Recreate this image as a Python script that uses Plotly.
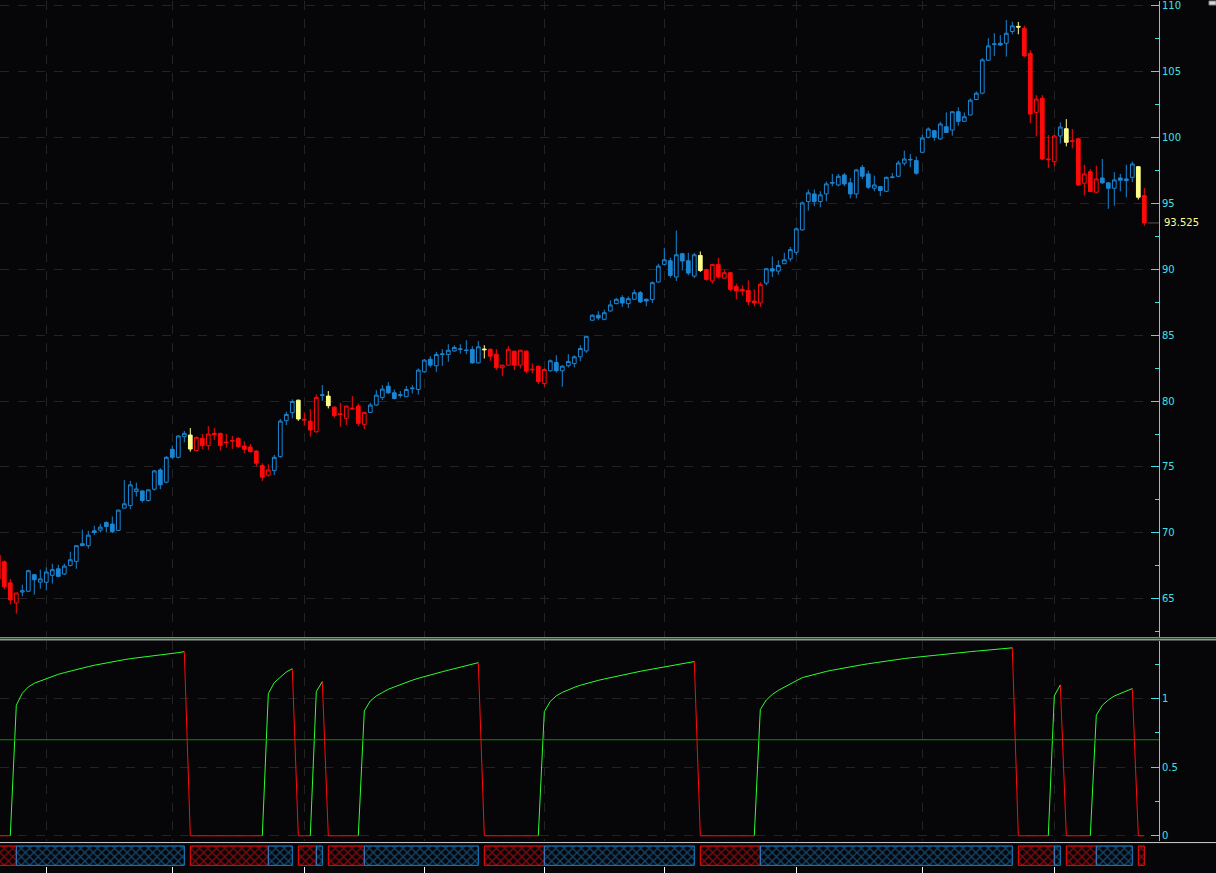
import plotly.graph_objects as go

# ---------------- data (bar index 0..191) ----------------
opens = [68.3, 67.8, 66.2, 64.67, 65.5, 65.56, 66.82, 66.25, 66.24, 66.77, 67.27, 66.87, 67.52, 67.83, 69.17, 69.02,
         70.15, 70.2, 70.78, 70.66, 70.18, 71.87, 72.07, 73.13, 73.18, 72.45, 73.31, 74.77, 73.84, 76.34, 75.73, 77.3,
         77.42, 76.24, 77.17, 76.62, 77.55, 77.55, 76.9, 77.0, 77.17, 76.59, 76.52, 76.21, 75.1, 74.37, 74.72, 75.78,
         78.51, 79.12, 80.07, 78.62, 78.48, 77.67, 80.42, 80.38, 79.54, 79.03, 78.69, 79.46, 79.62, 78.23, 79.14, 79.7,
         80.28, 81.13, 80.63, 80.42, 80.33, 80.94, 80.88, 82.22, 83.18, 82.68, 83.54, 83.54, 83.81, 83.92, 83.88, 83.92,
         82.9, 83.95, 83.94, 83.56, 82.53, 82.73, 83.79, 82.73, 83.79, 82.42, 82.65, 81.34, 82.3, 82.93, 82.3, 82.68,
         82.85, 83.36, 83.81, 86.14, 86.52, 86.21, 86.84, 87.4, 87.85, 87.4, 87.73, 88.23, 87.73, 87.7, 89.04, 90.38,
         90.66, 89.42, 91.19, 90.66, 89.49, 91.06, 89.97, 89.12, 90.38, 89.34, 89.75, 88.71, 88.49, 88.41, 87.6, 87.45,
         88.96, 90.05, 89.87, 90.43, 90.8, 91.3, 93.0, 95.15, 95.73, 95.15, 95.73, 96.54, 96.41, 97.17, 96.57, 95.73,
         97.75, 97.25, 96.16, 96.29, 95.93, 96.97, 97.07, 98.06, 98.31, 98.26, 98.89, 100.03, 100.53, 99.9, 100.83, 100.58,
         101.97, 101.24, 101.72, 102.9, 103.38, 105.88, 107.08, 107.17, 107.17, 108.06, 108.45, 108.31, 106.41, 101.92, 103.0, 98.38,
         98.18, 100.13, 100.68, 99.77, 99.92, 96.54, 97.42, 95.86, 96.94, 96.57, 96.16, 96.94, 96.87, 96.99, 97.8, 95.61]
highs = [68.5, 67.9, 66.5, 65.45, 66.06, 67.2, 66.85, 67.2, 67.37, 67.65, 67.57, 67.65, 68.56, 69.05, 70.23, 70.15,
         70.53, 70.68, 70.86, 71.24, 71.75, 74.0, 73.94, 73.81, 73.2, 73.3, 74.75, 74.9, 75.83, 76.62, 77.4, 77.73,
         77.95, 77.3, 77.5, 78.1, 77.95, 77.6, 77.5, 77.35, 77.25, 76.95, 76.74, 76.25, 75.28, 75.2, 75.91, 78.64,
         79.19, 80.13, 80.1, 79.14, 79.39, 80.5, 81.21, 80.76, 79.6, 79.87, 79.65, 80.38, 79.82, 79.2, 79.87, 80.83,
         81.21, 81.44, 80.88, 80.76, 81.14, 81.21, 82.48, 83.2, 83.41, 83.74, 83.94, 84.32, 84.24, 84.32, 84.62, 84.17,
         84.55, 84.24, 83.97, 83.94, 82.75, 84.17, 83.82, 83.9, 83.86, 82.85, 82.7, 82.5, 83.16, 83.48, 82.73, 83.56,
         83.48, 84.24, 84.95, 86.6, 86.82, 86.94, 87.65, 87.83, 88.03, 87.95, 88.46, 88.36, 87.78, 89.09, 90.43, 91.64,
         90.88, 92.95, 91.26, 91.26, 91.26, 91.36, 90.05, 90.4, 90.88, 89.97, 89.8, 88.91, 88.79, 89.17, 88.49, 89.04,
         90.1, 90.98, 90.68, 91.26, 91.7, 93.2, 95.15, 96.06, 96.06, 95.93, 96.67, 97.25, 97.25, 97.32, 96.94, 97.63,
         97.93, 97.5, 97.12, 96.29, 97.04, 97.32, 98.26, 99.02, 98.76, 98.56, 100.23, 100.78, 100.6, 101.21, 101.92, 102.0,
         102.3, 101.92, 102.98, 103.51, 106.04, 107.55, 107.93, 107.8, 108.94, 108.81, 108.79, 108.49, 106.64, 103.23, 103.23, 100.2,
         100.23, 101.16, 101.41, 100.66, 100.0, 97.95, 97.63, 97.88, 98.38, 96.62, 97.38, 97.25, 97.95, 98.18, 97.82, 96.19]
lows = [66.2, 65.7, 64.55, 63.86, 65.18, 65.5, 65.3, 65.75, 65.63, 66.14, 66.62, 66.79, 67.45, 67.27, 69.0, 68.81,
        69.85, 70.02, 70.02, 69.97, 70.15, 71.85, 71.79, 72.75, 72.3, 72.37, 73.2, 73.31, 73.76, 75.63, 75.65, 76.87,
        76.16, 76.2, 76.36, 76.29, 77.05, 76.24, 76.46, 76.36, 76.46, 76.04, 76.09, 75.03, 73.94, 74.27, 74.39, 75.7,
        78.18, 78.69, 78.5, 78.13, 77.3, 77.6, 80.02, 79.44, 78.74, 78.06, 78.18, 79.32, 78.1, 77.88, 79.1, 79.65,
        80.08, 80.53, 80.13, 80.25, 80.3, 80.58, 80.5, 82.15, 82.55, 82.22, 82.68, 82.98, 83.74, 83.61, 83.56, 82.85,
        82.85, 83.23, 83.06, 82.35, 81.89, 82.7, 82.35, 82.48, 82.1, 82.1, 81.29, 81.09, 82.25, 82.17, 81.09, 82.55,
        82.55, 83.03, 83.66, 86.1, 86.14, 86.14, 86.8, 87.35, 87.15, 87.07, 87.7, 87.45, 87.2, 87.45, 89.0, 90.3,
        89.37, 89.12, 89.92, 89.55, 89.34, 89.8, 89.15, 88.91, 89.29, 89.3, 88.36, 87.73, 88.03, 87.27, 87.2, 87.15,
        88.79, 89.42, 89.6, 90.4, 90.6, 91.1, 92.95, 94.47, 94.8, 94.72, 95.18, 96.31, 96.31, 96.31, 95.4, 95.4,
        96.87, 96.11, 95.93, 95.56, 95.86, 96.92, 97.0, 97.88, 97.75, 97.2, 98.85, 99.95, 99.77, 99.85, 100.35, 100.15,
        100.91, 101.2, 101.7, 102.85, 103.3, 105.85, 106.21, 106.97, 106.16, 107.85, 107.85, 106.14, 101.09, 100.1, 98.3, 97.7,
        97.83, 99.57, 99.34, 99.19, 96.35, 95.61, 95.86, 95.8, 96.49, 94.6, 94.85, 95.93, 95.48, 96.62, 95.3, 93.3]
closes = [66.5, 65.9, 64.9, 65.43, 65.6, 67.12, 66.44, 66.5, 67.02, 67.2, 66.69, 67.47, 67.95, 69.02, 69.02, 69.82,
          70.02, 70.43, 70.48, 70.1, 71.72, 72.2, 73.64, 73.33, 72.45, 73.26, 74.7, 73.64, 75.73, 75.73, 77.35, 77.55,
          76.36, 77.25, 76.62, 77.5, 77.45, 76.62, 76.85, 76.97, 76.54, 76.34, 76.16, 75.28, 74.22, 74.77, 75.73, 78.48,
          78.99, 79.97, 78.64, 78.56, 77.8, 80.28, 80.48, 79.65, 78.89, 78.99, 79.62, 79.42, 78.31, 79.14, 79.7, 80.45,
          80.91, 80.63, 80.2, 80.48, 80.88, 80.98, 82.35, 83.11, 82.73, 83.54, 83.58, 83.86, 84.07, 83.96, 83.84, 82.9,
          84.12, 83.9, 83.41, 82.53, 82.73, 83.94, 82.73, 83.86, 82.27, 82.38, 81.47, 82.4, 83.06, 82.3, 82.65, 83.01,
          83.36, 83.99, 84.92, 86.52, 86.31, 86.71, 87.3, 87.73, 87.45, 87.78, 88.23, 87.53, 87.6, 88.99, 90.25, 90.73,
          89.54, 91.11, 90.63, 89.72, 91.11, 89.92, 89.24, 90.38, 89.42, 89.75, 88.49, 88.36, 88.36, 87.53, 87.45, 88.86,
          90.05, 89.87, 90.3, 90.73, 91.5, 93.08, 95.05, 95.81, 95.15, 95.66, 96.49, 96.6, 97.07, 96.49, 95.73, 97.55,
          97.07, 96.24, 96.41, 95.99, 96.99, 97.01, 98.08, 98.38, 98.35, 97.3, 99.97, 100.66, 100.03, 101.04, 100.4, 101.97,
          101.24, 101.59, 102.85, 103.38, 105.91, 106.97, 107.12, 107.04, 107.93, 108.49, 108.4, 106.21, 101.79, 102.93, 98.38, 98.33,
          100.13, 100.81, 99.65, 99.73, 96.41, 97.25, 95.91, 96.87, 96.57, 96.16, 96.79, 96.77, 96.74, 98.0, 95.48, 93.525]

# trend-strength indicator, one value per bar
indicator = [0, 0, 0,
             0.951, 1.039, 1.085, 1.112, 1.129, 1.148, 1.163, 1.177, 1.189, 1.201, 1.214, 1.223, 1.233, 1.243,
             1.252, 1.262, 1.269, 1.277, 1.284, 1.291, 1.296, 1.303, 1.308, 1.316, 1.320, 1.325, 1.330, 1.335, 1.342,
             0, 0, 0, 0, 0, 0, 0, 0, 0, 0, 0, 0, 0,
             1.036, 1.117, 1.158, 1.194, 1.218,
             0, 0, 0,
             1.051, 1.124,
             0, 0, 0, 0, 0, 0,
             0.910, 0.983, 1.019, 1.044, 1.068, 1.085, 1.103, 1.119, 1.134, 1.148, 1.161, 1.173, 1.185, 1.196,
             1.207, 1.218, 1.229, 1.240, 1.251, 1.262,
             0, 0, 0, 0, 0, 0, 0, 0, 0, 0,
             0.905, 0.980, 1.020, 1.045, 1.065, 1.082, 1.097, 1.110, 1.122, 1.133, 1.143, 1.153, 1.163, 1.172,
             1.181, 1.190, 1.199, 1.207, 1.215, 1.223, 1.231, 1.239, 1.247, 1.255, 1.263, 1.270,
             0, 0, 0, 0, 0, 0, 0, 0, 0, 0,
             0.920, 0.990, 1.030, 1.060, 1.085, 1.110, 1.130, 1.153, 1.165, 1.177, 1.188, 1.198, 1.207, 1.216,
             1.224, 1.232, 1.240, 1.247, 1.254, 1.261, 1.268, 1.274, 1.280, 1.286, 1.292, 1.297, 1.302, 1.307,
             1.312, 1.317, 1.321, 1.326, 1.330, 1.334, 1.338, 1.342, 1.346, 1.350, 1.354, 1.358, 1.362, 1.366, 1.370,
             0, 0, 0, 0, 0, 0,
             1.020, 1.100,
             0, 0, 0, 0, 0,
             0.879, 0.951, 0.990, 1.019, 1.039, 1.058, 1.073,
             0, 0]

level_value = 0.7
last_price = 93.525
last_price_label = "93.525"
month_starts = [8, 29, 51, 71, 91, 111, 133, 154, 176]   # bar index of the vertical grid lines / bottom ticks
price_ticks = [65, 70, 75, 80, 85, 90, 95, 100, 105, 110]
ind_ticks = [0, 0.5, 1]
ind_tick_text = ["0", "0.5", "1"]

n = len(closes)
assert len(opens) == len(highs) == len(lows) == n == len(indicator) == 192
bars = list(range(n))

# ---------------- styles ----------------
BG = "#060609"
BLUE = "#1b86d3"
RED = "#ff0a0a"
YEL = "#ffff8c"
CYAN = "#3ee0e6"
GRID = "#232323"
GREEN_LINE = "#2cff2c"
LEVEL = "#0a8c0a"
W, H = 1216, 873
AX_X = 1159  # pixel of the right axis


def py(p):  # pixel row -> paper y
    return 1 - p / H


xdom = [0, AX_X / W]
xrange_ = [(0 + 1.7) / 6, (AX_X + 1.7) / 6]

# candle colour state from indicator
state = []
for i in range(n):
    prev = indicator[i - 1] if i > 0 else 0
    if prev == 0:
        state.append("red")
    elif indicator[i] == 0:
        state.append("yellow")
    else:
        state.append("blue")

fig = go.Figure()
for name, col in (("blue", BLUE), ("red", RED), ("yellow", YEL)):
    idx = [i for i in bars if state[i] == name]
    fig.add_trace(go.Candlestick(
        x=idx,
        open=[opens[i] for i in idx], high=[highs[i] for i in idx],
        low=[lows[i] for i in idx], close=[closes[i] for i in idx],
        increasing=dict(line=dict(color=col, width=1), fillcolor=BG),
        decreasing=dict(line=dict(color=col, width=1), fillcolor=col),
        whiskerwidth=0, xaxis="x", yaxis="y", showlegend=False, name=name,
    ))

# indicator line: green rising segments, red otherwise
gx, gy, rx, ry = [], [], [], []
for i in range(1, n):
    up = indicator[i] > indicator[i - 1]
    tx, ty = (gx, gy) if up else (rx, ry)
    if tx and tx[-1] == i - 1:
        tx.append(i)
        ty.append(indicator[i])
    else:
        if tx:
            tx.append(None)
            ty.append(None)
        tx += [i - 1, i]
        ty += [indicator[i - 1], indicator[i]]
fig.add_trace(go.Scatter(x=rx, y=ry, mode="lines", line=dict(color=RED, width=1),
                         xaxis="x2", yaxis="y2", showlegend=False, hoverinfo="skip"))
fig.add_trace(go.Scatter(x=gx, y=gy, mode="lines", line=dict(color=GREEN_LINE, width=1),
                         xaxis="x2", yaxis="y2", showlegend=False, hoverinfo="skip"))

# band of trend state boxes
spans = []  # (start, end, colour)
cur_start = 0
for j in range(1, n):
    if indicator[j - 1] == 0 and indicator[j] > 0:
        spans.append((cur_start, j, "red"))
        cur_start = j
    elif indicator[j - 1] > 0 and indicator[j] == 0:
        spans.append((cur_start, j - 1, "blue"))
        cur_start = j
spans.append((cur_start, n - 1, "red" if indicator[-1] == 0 else "blue"))

for colname, col in (("red", RED), ("blue", BLUE)):
    sp = [s for s in spans if s[2] == colname]
    fig.add_trace(go.Bar(
        x=[(a + b) / 2 for a, b, _ in sp], y=[1] * len(sp), base=[0] * len(sp),
        width=[max(b - a, 0.001) for a, b, _ in sp],
        marker=dict(color="rgba(0,0,0,0)", line=dict(color=col, width=1),
                    pattern=dict(shape="x", fgcolor=col, bgcolor="rgba(0,0,0,0)", size=6, solidity=0.4)),
        xaxis="x3", yaxis="y3", showlegend=False, hoverinfo="skip",
    ))

axis_font = dict(family="DejaVu Sans", size=10, color=CYAN)
xcommon = dict(domain=xdom, range=xrange_, tickmode="array", tickvals=month_starts, showticklabels=False,
               zeroline=False, showline=False, fixedrange=True)

fig.update_layout(
    width=W, height=H, margin=dict(l=0, r=0, t=0, b=0),
    paper_bgcolor=BG, plot_bgcolor=BG, showlegend=False,
    boxgap=0.38, boxgroupgap=0, barmode="overlay", hovermode=False,
    xaxis=dict(**xcommon, anchor="y", showgrid=True, gridcolor=GRID, griddash="dash", gridwidth=1,
               ticks="", rangeslider=dict(visible=False)),
    yaxis=dict(domain=[py(637), 1], range=[110.379 - 637 / 13.2, 110.379], side="right", anchor="x",
               tickmode="array", tickvals=price_ticks, showgrid=True, gridcolor=GRID, griddash="dash",
               ticks="inside", ticklen=8, tickcolor=CYAN, tickwidth=1, showline=True, linecolor=CYAN,
               linewidth=1, tickfont=axis_font, zeroline=False, ticklabeloverflow="allow", fixedrange=True,
               minor=dict(tick0=0, dtick=2.5, ticks="inside", ticklen=4, tickcolor=CYAN, showgrid=False)),
    xaxis2=dict(**xcommon, anchor="y2", showgrid=True, gridcolor=GRID, griddash="dash", ticks=""),
    yaxis2=dict(domain=[py(842), py(641)], range=[(836.7 - 842) / 137.5, (836.7 - 641) / 137.5],
                side="right", anchor="x2", tickmode="array", tickvals=ind_ticks, ticktext=ind_tick_text,
                showgrid=True, gridcolor=GRID, griddash="dash", ticks="inside", ticklen=8, tickcolor=CYAN,
                showline=True, linecolor=CYAN, linewidth=1, tickfont=axis_font, zeroline=False,
                ticklabeloverflow="allow", fixedrange=True,
                minor=dict(tickmode="array", tickvals=[0.25, 0.75, 1.25], ticks="inside", ticklen=4,
                           tickcolor=CYAN, showgrid=False)),
    xaxis3=dict(**xcommon, anchor="y3", showgrid=False, ticks="outside", ticklen=7, tickcolor="#ffffff",
                tickwidth=1),
    yaxis3=dict(domain=[py(867), py(845)], range=[-0.035, 1.1], visible=False, fixedrange=True),
)

shapes = [
    dict(type="line", xref="paper", yref="paper", x0=0, x1=1, y0=py(638.3), y1=py(638.3),
         line=dict(color="#8ef08e", width=1)),
    dict(type="line", xref="paper", yref="paper", x0=0, x1=1, y0=py(640.3), y1=py(640.3),
         line=dict(color="#dcdcdc", width=1)),
    dict(type="line", xref="paper", yref="paper", x0=0, x1=1, y0=py(843.5), y1=py(843.5),
         line=dict(color="#d0d0d0", width=1)),
    dict(type="line", xref="x2 domain", yref="y2", x0=0, x1=1, y0=level_value, y1=level_value,
         line=dict(color=LEVEL, width=1)),
    dict(type="line", xref="paper", yref="y", x0=1148 / W, x1=AX_X / W, y0=last_price, y1=last_price,
         line=dict(color="#555555", width=1)),
    dict(type="rect", xref="paper", yref="paper", x0=1209 / W, x1=1, y0=py(4), y1=1,
         line=dict(color="#888888", width=1), fillcolor="#d8d8d8"),
]
fig.update_layout(shapes=shapes)
fig.add_annotation(x=1162 / W, xref="paper", y=last_price, yref="y", text=last_price_label,
                   showarrow=False, xanchor="left", yanchor="middle",
                   font=dict(family="DejaVu Sans", size=10, color=YEL))

fig.write_html("out.html", config={"displayModeBar": False, "staticPlot": True},
               post_script="document.body.style.margin='0';document.body.style.overflow='hidden';")
